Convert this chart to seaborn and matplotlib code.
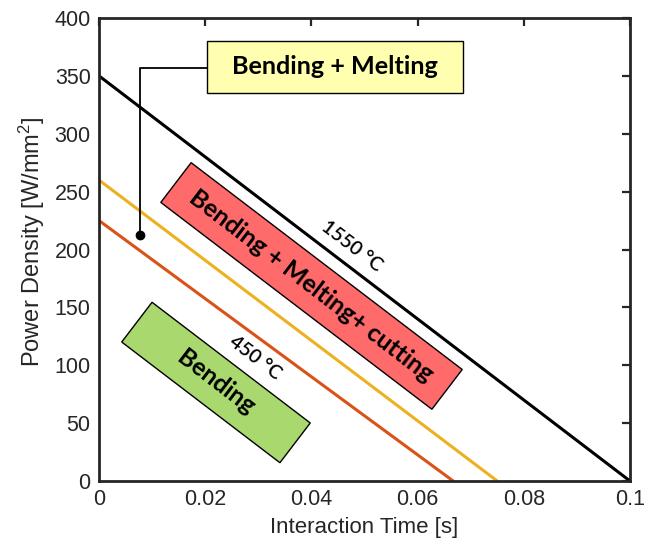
import numpy as np
import pandas as pd
import matplotlib
matplotlib.use("Agg")
import matplotlib.pyplot as plt
import matplotlib.patches as mpatches
import matplotlib.transforms as mtrans
import seaborn as sns

# ---------------- data ----------------
series_names = ["1550 °C", "middle", "450 °C"]
y_intercepts = [350, 260, 225]          # W/mm^2 at t = 0
x_intercepts = [0.1, 0.075, 0.0667]     # s at power density = 0
line_colors = ["#000000", "#EDB120", "#D95319"]

x_ticks = [0, 0.02, 0.04, 0.06, 0.08, 0.1]
x_tick_labels = ["0", "0.02", "0.04", "0.06", "0.08", "0.1"]
y_ticks = [0, 50, 100, 150, 200, 250, 300, 350, 400]
y_tick_labels = [str(v) for v in y_ticks]

region_labels = ["Bending + Melting", "Bending + Melting+ cutting", "Bending"]
region_colors = ["#FFFFAF", "#FF6B6B", "#A9D86E"]
temp_labels = ["1550 °C", "450 °C"]

# ---------------- style ----------------
sns.set_style("white")
plt.rcParams["font.family"] = ["Liberation Sans", "DejaVu Sans"]
plt.rcParams["mathtext.default"] = "regular"
TXT = "#262626"

rows = []
for name, y0, x0 in zip(series_names, y_intercepts, x_intercepts):
    rows.append({"series": name, "t": 0.0, "p": y0})
    rows.append({"series": name, "t": x0, "p": 0.0})
df = pd.DataFrame(rows)

W, H = 659, 549
fig = plt.figure(figsize=(W / 100, H / 100), dpi=100)
ax = fig.add_axes([99 / W, (H - 481) / H, 531 / W, 463 / H])

sns.lineplot(data=df, x="t", y="p", hue="series", hue_order=series_names,
             palette=dict(zip(series_names, line_colors)), legend=False,
             linewidth=2.2, ax=ax)

ax.set_xlim(0, 0.1)
ax.set_ylim(0, 400)
ax.set_xticks(x_ticks)
ax.set_xticklabels(x_tick_labels)
ax.set_yticks(y_ticks)
ax.set_yticklabels(y_tick_labels)
ax.tick_params(direction="in", length=6, width=1.6, colors=TXT, labelsize=15.5,
               top=True, right=True, pad=6)
for sp in ax.spines.values():
    sp.set_visible(True)
    sp.set_color(TXT)
    sp.set_linewidth(2.0)
ax.set_xlabel("Interaction Time [s]", fontsize=16, color=TXT, labelpad=5)
ax.set_ylabel("Power Density [W/mm$^2$]", fontsize=17, color=TXT)
ax.yaxis.set_label_coords(-0.098, 0.516)

# angle of lines in display space
p0 = ax.transData.transform((0, y_intercepts[0]))
p1 = ax.transData.transform((x_intercepts[0], 0))
ang = np.degrees(np.arctan2(p1[1] - p0[1], p1[0] - p0[0]))

BOXFONT = ["Lato", "DejaVu Sans"]


def rot_box(xy, w, h, angle, fc, text, fs):
    cx, cy = ax.transData.transform(xy)
    rect = mpatches.Rectangle((-w / 2, -h / 2), w, h,
                              transform=mtrans.Affine2D().rotate_deg(angle).translate(cx, cy),
                              facecolor=fc, edgecolor="black", linewidth=1.0, zorder=3)
    fig.add_artist(rect)
    fig.text(cx / fig.bbox.width, cy / fig.bbox.height, text, rotation=angle,
             rotation_mode="anchor", ha="center", va="center", fontsize=fs,
             fontweight="bold", family=BOXFONT, color="black", zorder=4)


# Bending + Melting (top, unrotated) with leader
rot_box((0.04444, 357.7), 256, 52, 0, region_colors[0], region_labels[0], 18.2)
# Bending + Melting+ cutting
rot_box((0.04002, 168.5), 341, 50, ang, region_colors[1], region_labels[1], 17.8)
# Bending
rot_box((0.02203, 85.1), 199, 50, ang, region_colors[2], region_labels[2], 17.8)

# leader line
ax.plot([0.00772, 0.00772, 0.02028], [212.5, 357.1, 357.1], color="black", lw=1.3, zorder=2)
ax.plot([0.00772], [212.5], marker="o", color="black", ms=6, zorder=2)

# temperature labels
ax.text(0.04765, 203.0, temp_labels[0], rotation=ang, rotation_mode="anchor",
        ha="center", va="center", fontsize=14, fontweight="semibold",
        family=BOXFONT, color="black")
ax.text(0.02938, 106.3, temp_labels[1], rotation=ang, rotation_mode="anchor",
        ha="center", va="center", fontsize=14, fontweight="semibold",
        family=BOXFONT, color="black")

fig.savefig("out.png", dpi=100)
